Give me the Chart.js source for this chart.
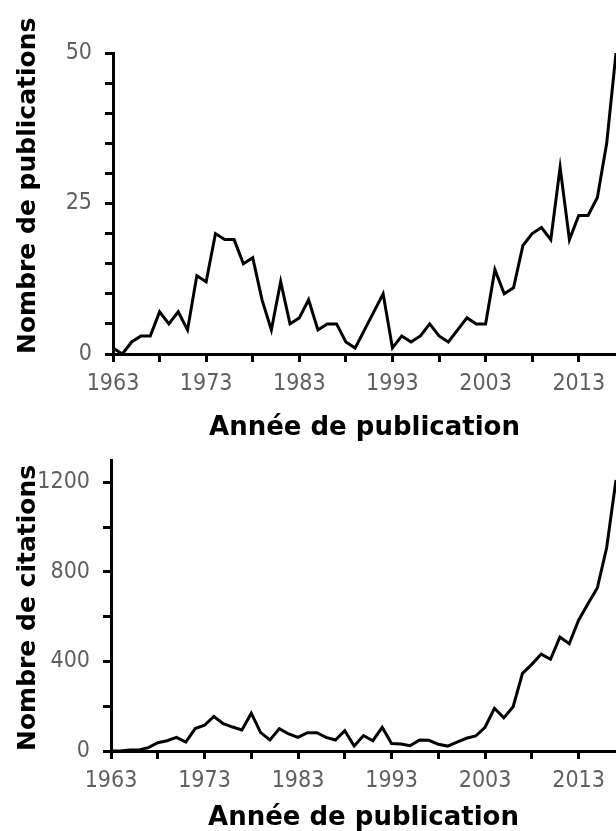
<!DOCTYPE html>
<html>
<head>
<meta charset="utf-8">
<script src="https://cdn.jsdelivr.net/npm/chart.js@4.4.1/dist/chart.umd.min.js"></script>
<style>
  body { margin: 0; background: #fff; }
  .wrap { position: relative; width: 616px; height: 831px; }
  canvas { position: absolute; left: 0; }
  #pubChart { top: 0; }
  #citChart { top: 450px; }
</style>
</head>
<body>
<div class="wrap">
  <canvas id="pubChart" width="616" height="450"></canvas>
  <canvas id="citChart" width="616" height="381"></canvas>
</div>
<script>
const years = [];
for (let y = 1963; y <= 2017; y++) years.push(y);

const publications = [
  1, 0, 2, 3, 3, 7, 5, 7, 4, 13,
  12, 20, 19, 19, 15, 16, 9, 4, 12, 5,
  6, 9, 4, 5, 5, 2, 1, 4, 7, 10,
  1, 3, 2, 3, 5, 3, 2, 4, 6, 5,
  5, 14, 10, 11, 18, 20, 21, 19, 31, 19,
  23, 23, 26, 35, 50
];

const citations = [
  0, 0, 5, 5, 15, 37, 46, 61, 40, 100,
  115, 154, 122, 107, 94, 169, 82, 49, 100, 76,
  61, 82, 82, 61, 49, 91, 22, 69, 46, 106,
  33, 31, 24, 49, 48, 30, 22, 40, 57, 67,
  106, 191, 148, 198, 347, 387, 433, 410, 509, 479,
  584, 658, 728, 908, 1211
];

const yearTicks = [1963, 1968, 1973, 1978, 1983, 1988, 1993, 1998, 2003, 2008, 2013];
const yearLabels = [1963, 1973, 1983, 1993, 2003, 2013];
const pubTicks = [0, 5, 10, 15, 20, 25, 30, 35, 40, 45, 50];
const pubLabels = [0, 25, 50];
const citTicks = [0, 200, 400, 600, 800, 1000, 1200];
const citLabels = [0, 400, 800, 1200];

const tickFont = { family: "'Liberation Sans Narrow', 'DejaVu Sans Condensed', sans-serif", size: 23 };
const titleFont = { family: "'DejaVu Sans', sans-serif", size: 26, weight: 'bold', lineHeight: 1 };
const yTitleFont = { family: "'DejaVu Sans', sans-serif", size: 25, weight: 'bold', lineHeight: 1 };

function axisGrid() {
  return { drawOnChartArea: false, drawTicks: true, tickLength: 8, tickWidth: 3, color: '#000' };
}

// chart.js pads for the edge labels, we place the plot area ourselves
function noPad(s) {
  s.paddingTop = 0;
  s.paddingBottom = 0;
  s.paddingLeft = 0;
  s.paddingRight = 0;
}

function makeChart(id, values, o) {
  return new Chart(document.getElementById(id), {
    type: 'line',
    data: {
      datasets: [{
        data: years.map((y, i) => ({ x: y, y: values[i] })),
        borderColor: '#000',
        borderWidth: 3,
        pointRadius: 0,
        tension: 0,
        fill: false
      }]
    },
    options: {
      responsive: false,
      animation: false,
      devicePixelRatio: 1,
      layout: { padding: { top: o.top, left: 0, right: 0, bottom: 0 } },
      plugins: { legend: { display: false }, tooltip: { enabled: false } },
      scales: {
        x: {
          type: 'linear',
          min: 1963,
          max: 2017,
          afterBuildTicks: s => { s.ticks = yearTicks.map(v => ({ value: v })); },
          afterFit: s => { s.height = o.xHeight; noPad(s); },
          grid: axisGrid(),
          border: { display: true, color: '#000', width: 3 },
          ticks: {
            autoSkip: false,
            maxRotation: 0,
            padding: o.xPad,
            color: '#5f5f5f',
            font: tickFont,
            callback: v => yearLabels.includes(v) ? String(v) : ''
          },
          title: {
            display: true,
            text: 'Année de publication',
            color: '#000',
            font: titleFont,
            padding: { top: 0, bottom: o.xTitlePad }
          }
        },
        y: {
          min: 0,
          max: o.yMax,
          afterBuildTicks: s => { s.ticks = o.yTicks.map(v => ({ value: v })); },
          afterFit: s => { s.width = o.yWidth; noPad(s); },
          grid: axisGrid(),
          border: { display: true, color: '#000', width: 3 },
          ticks: {
            autoSkip: false,
            padding: 13,
            color: '#5f5f5f',
            font: tickFont,
            callback: v => o.yLabels.includes(v) ? String(v) : ''
          },
          title: {
            display: true,
            text: o.yTitle,
            align: 'start',
            color: '#000',
            font: yTitleFont,
            padding: { top: 16, bottom: 0 }
          }
        }
      }
    }
  });
}

makeChart('pubChart', publications, {
  top: 53, xHeight: 96, yWidth: 113, xPad: 8, xTitlePad: 9,
  yMax: 50, yTicks: pubTicks, yLabels: pubLabels, yTitle: 'Nombre de publications'
});

makeChart('citChart', citations, {
  top: 10, xHeight: 80, yWidth: 111, xPad: 8, xTitlePad: 0,
  yMax: 1300, yTicks: citTicks, yLabels: citLabels, yTitle: 'Nombre de citations'
});
</script>
</body>
</html>
